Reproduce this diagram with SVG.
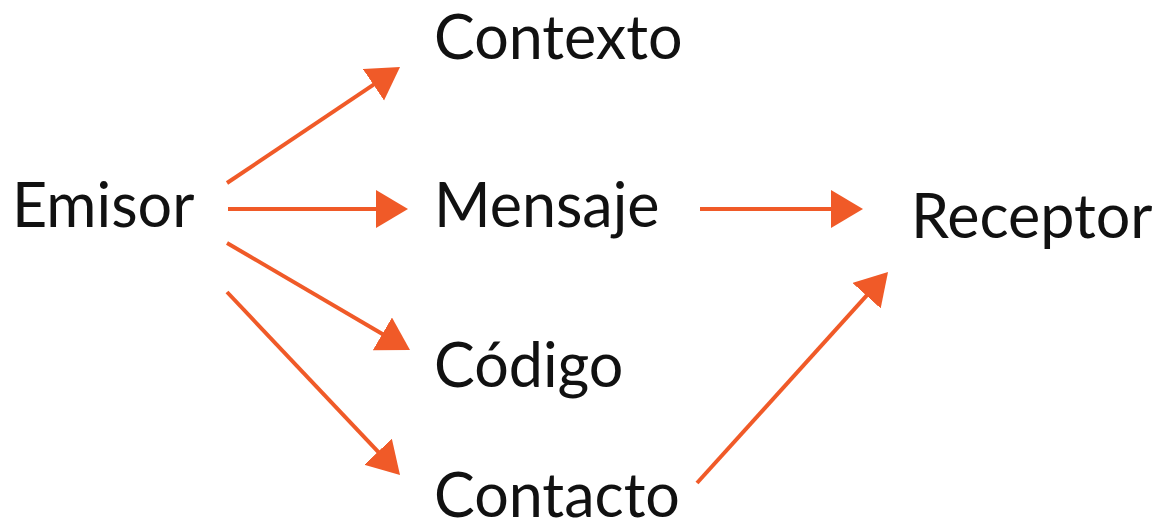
<svg xmlns="http://www.w3.org/2000/svg" width="1176" height="529" viewBox="0 0 1176 529">
<defs>
<marker id="ah" markerUnits="userSpaceOnUse" markerWidth="34" markerHeight="40" refX="2" refY="19" orient="auto" viewBox="0 0 34 40">
<path d="M0,0 L32,19 L0,38 Z" fill="#F05A28"/>
</marker>
<style>
.lbl{font-family:"Lato","Open Sans",sans-serif;font-size:61px;fill:#111}
.c{stroke:#F05A28;stroke-width:4;fill:none;marker-end:url(#ah)}
</style>
</defs>
<rect width="1176" height="529" fill="#fff"/>
<g id="connectors">
<line class="c" x1="227" y1="183" x2="375.1" y2="83.7"/>
<line class="c" x1="228" y1="209" x2="378" y2="209"/>
<line class="c" x1="227" y1="243" x2="384.1" y2="334.9"/>
<line class="c" x1="227" y1="292" x2="379.4" y2="453.2"/>
<line class="c" x1="700" y1="209" x2="833" y2="209"/>
<line class="c" x1="697" y1="483" x2="867.9" y2="294.2"/>
</g>
<g id="emisor"><text class="lbl" x="12" y="227">Emisor</text></g>
<g id="contexto"><text class="lbl" x="434" y="59">Contexto</text></g>
<g id="mensaje"><text class="lbl" x="434" y="227">Mensaje</text></g>
<g id="codigo"><text class="lbl" x="434" y="387">Código</text></g>
<g id="contacto"><text class="lbl" x="434" y="517">Contacto</text></g>
<g id="receptor"><text class="lbl" x="911" y="238">Receptor</text></g>
</svg>
